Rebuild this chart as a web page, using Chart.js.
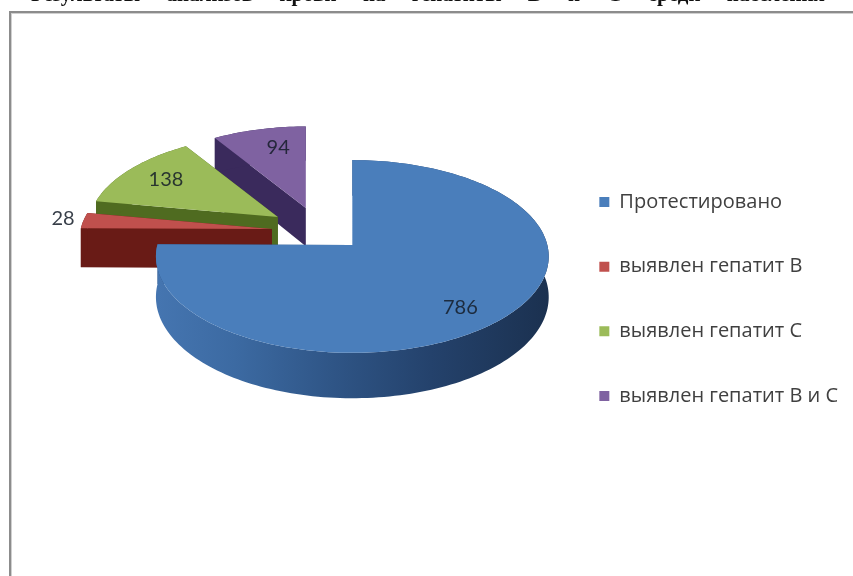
<!DOCTYPE html>
<html>
<head>
<meta charset="utf-8">
<title>Диаграмма</title>
<script src="https://cdn.jsdelivr.net/npm/chart.js@4"></script>
<style>
  html, body { margin: 0; padding: 0; background: #fff; }
  #wrap { width: 853px; height: 576px; overflow: hidden; }
  canvas { filter: blur(0.5px); }
</style>
</head>
<body>
<div id="wrap"><canvas id="pie" width="853" height="576"></canvas></div>
<script>
const categories = ["Протестировано", "выявлен гепатит В", "выявлен гепатит С", "выявлен гепатит В и С"];
const values = [786, 28, 138, 94];
const topColors = ["#4a7ebb", "#c0504d", "#9bbb59", "#7f62a1"];
const sideColors = ["#2c4f7e", "#691b16", "#4f6b20", "#3a2a5c"];
const titleText = "Результаты анализов крови на гепатиты В и С среди населения";

// 3D look: every slice gets its own shift from the pie centre, then a weak perspective
const RY = 95, PERSP = 0.119, DEPTH = 40;
const shifts = [[75, -54], [-5.5, -70], [0.5, -82], [28.5, -91]];
const labelReach = [0.77, 1.11, 0.75, 0.72];
const labelNudge = [[-5, 7], [0, -1], [0, -1], [7, -2]];

function project(arc, i, angle, f) {
  const [dx, dy] = shifts[i];
  const oY = (dy - shifts[0][1]) / RY;
  const X = Math.cos(angle) * f, Y = Math.sin(angle) * f;
  const w = 1 - PERSP * (Y + oY);
  return {
    x: arc.x + dx + arc.outerRadius * X / w,
    y: arc.y + dy + RY * Y / w,
    d: DEPTH / w,
  };
}

function fillPoly(ctx, pts, fill) {
  ctx.fillStyle = fill;
  ctx.beginPath();
  pts.forEach((p, n) => (n ? ctx.lineTo(p.x, p.y) : ctx.moveTo(p.x, p.y)));
  ctx.closePath();
  ctx.fill();
}

function sampleArc(arc, i) {
  const pts = [];
  const n = Math.max(8, Math.ceil((arc.endAngle - arc.startAngle) * 40));
  for (let k = 0; k <= n; k++) {
    pts.push(project(arc, i, arc.startAngle + (arc.endAngle - arc.startAngle) * k / n, 1));
  }
  return pts;
}

const down = p => ({ x: p.x, y: p.y + p.d });

const pie3d = {
  id: "pie3d",
  beforeDraw(chart) {
    const ctx = chart.ctx;
    ctx.save();
    ctx.fillStyle = "#fff";
    ctx.fillRect(0, 0, chart.width, chart.height);
    ctx.fillStyle = "#111";
    ctx.font = "bold 21px 'Liberation Serif'";
    ctx.textBaseline = "alphabetic";
    ctx.wordSpacing = "21px";
    ctx.fillText(titleText, 31, 1);
    ctx.wordSpacing = "0px";
    // frame of the pasted chart: only top and left show
    ctx.fillStyle = "#8c8c8c";
    ctx.fillRect(9, 11, chart.width - 9, 2);
    ctx.fillRect(9, 11, 2, chart.height - 11);
    ctx.fillStyle = "#d0d0d0";
    ctx.fillRect(11, 13, chart.width - 11, 1);
    ctx.fillRect(11, 13, 1, chart.height - 13);
    ctx.restore();
  },
  beforeDatasetDraw(chart) {
    const ctx = chart.ctx;
    const arcs = chart.getDatasetMeta(0).data;
    ctx.save();
    [3, 2, 1, 0].forEach(i => {
      const arc = arcs[i];
      const apex = project(arc, i, 0, 0);
      const rim = sampleArc(arc, i);
      const first = rim[0], last = rim[rim.length - 1];

      // radial faces, back one first
      [first, last].sort((a, b) => a.y - b.y).forEach(c => {
        fillPoly(ctx, [apex, c, down(c), down(apex)], sideColors[i]);
      });

      // outer wall
      let wallFill = sideColors[i];
      if (i === 0) {
        const g = ctx.createLinearGradient(arc.x + shifts[0][0] - arc.outerRadius, 0, arc.x + shifts[0][0] + arc.outerRadius, 0);
        g.addColorStop(0, "#4575b0");
        g.addColorStop(0.2, "#3c6aa2");
        g.addColorStop(0.45, "#2f5586");
        g.addColorStop(0.7, "#24426c");
        g.addColorStop(1, "#1b3150");
        wallFill = g;
      }
      fillPoly(ctx, rim.concat(rim.map(down).reverse()), wallFill);

      // top face
      fillPoly(ctx, [apex].concat(rim), arc.options.backgroundColor);
    });

    // value labels
    ctx.font = "20px Lato";
    ctx.textAlign = "center";
    ctx.textBaseline = "middle";
    arcs.forEach((arc, i) => {
      const mid = (arc.startAngle + arc.endAngle) / 2;
      const p = project(arc, i, mid, labelReach[i]);
      ctx.fillStyle = "rgba(20,28,40,0.85)";
      ctx.fillText(String(values[i]), p.x + labelNudge[i][0], p.y + labelNudge[i][1]);
    });
    ctx.restore();
    return false;
  },
};

new Chart(document.getElementById("pie"), {
  type: "pie",
  data: {
    labels: categories,
    datasets: [{ data: values, backgroundColor: topColors, borderWidth: 0 }],
  },
  options: {
    responsive: false,
    animation: false,
    radius: 195,
    layout: { padding: { top: 22, right: 5, bottom: 0, left: 0 } },
    plugins: {
      tooltip: { enabled: false },
      legend: {
        position: "right",
        labels: {
          boxWidth: 10,
          boxHeight: 10,
          padding: 44.7,
          color: "#404040",
          font: { family: "'Open Sans'", size: 20 },
        },
      },
    },
  },
  plugins: [pie3d],
});
</script>
</body>
</html>
